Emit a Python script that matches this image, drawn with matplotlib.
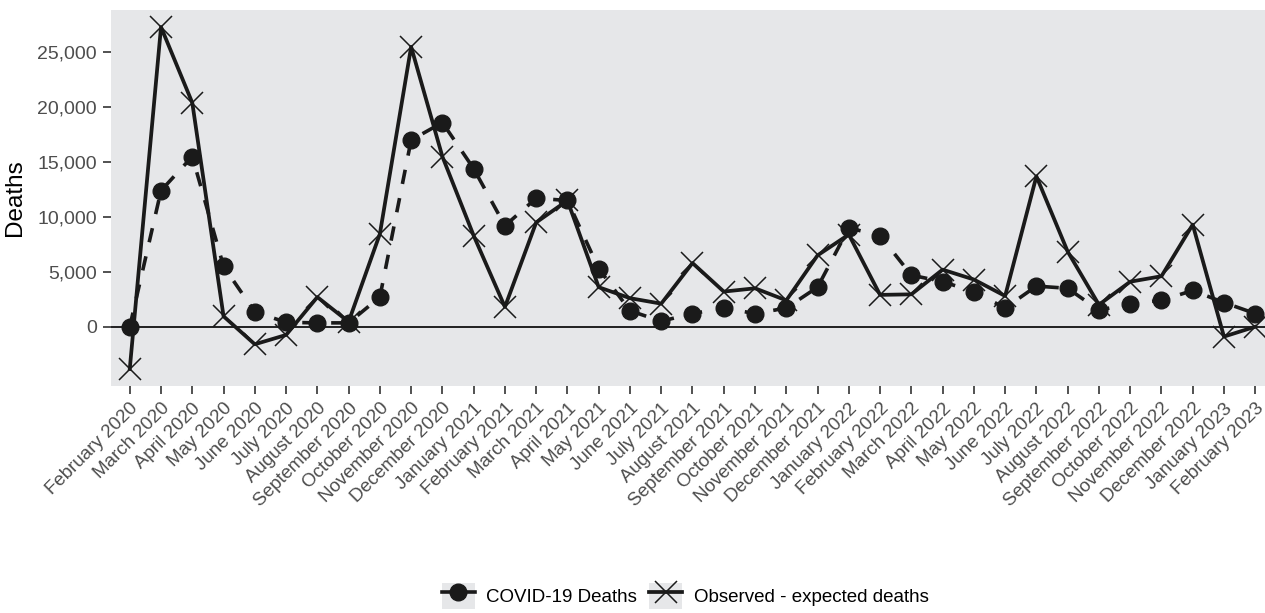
import matplotlib
matplotlib.use("Agg")
import matplotlib.pyplot as plt
from matplotlib.patches import Rectangle
from matplotlib.lines import Line2D
from matplotlib.legend_handler import HandlerTuple
from matplotlib.ticker import FuncFormatter

plt.rcParams['font.family'] = ['Liberation Sans', 'DejaVu Sans']

months = [
    "February 2020", "March 2020", "April 2020", "May 2020", "June 2020",
    "July 2020", "August 2020", "September 2020", "October 2020",
    "November 2020", "December 2020", "January 2021", "February 2021",
    "March 2021", "April 2021", "May 2021", "June 2021", "July 2021",
    "August 2021", "September 2021", "October 2021", "November 2021",
    "December 2021", "January 2022", "February 2022", "March 2022",
    "April 2022", "May 2022", "June 2022", "July 2022", "August 2022",
    "September 2022", "October 2022", "November 2022", "December 2022",
    "January 2023", "February 2023",
]

covid_deaths = [
    0, 12400, 15500, 5500, 1350, 400, 350, 350, 2700, 17000,
    18600, 14400, 9200, 11700, 11500, 5300, 1450, 500, 1200, 1700,
    1200, 1700, 3600, 9000, 8300, 4700, 4100, 3200, 1700, 3700,
    3500, 1500, 2100, 2400, 3300, 2200, 1200,
]

excess_deaths = [
    -3850, 27300, 20400, 950, -1600, -750, 2700, 450, 8450, 25500,
    15500, 8300, 1800, 9500, 11500, 3600, 2600, 2100, 5800, 3200,
    3500, 2400, 6500, 8400, 2900, 2950, 5200, 4300, 2800, 13700,
    6850, 2000, 4100, 4600, 9300, -900, 0,
]

fig = plt.figure(figsize=(12.65, 6.13), dpi=100)
ax = fig.add_axes([111 / 1265, 1 - 386 / 613, (1274 - 111) / 1265, 376 / 613])
ax.set_facecolor('#E6E7E9')
for s in ax.spines.values():
    s.set_visible(False)

x = list(range(len(months)))
ax.axhline(0, color='#111111', lw=1.3, zorder=1)

ax.plot(x, covid_deaths, color='#1a1a1a', lw=2.6, ls=(0, (4, 4)),
        marker='o', ms=12, zorder=3)
ax.plot(x, excess_deaths, color='#1a1a1a', lw=2.7, ls='-',
        marker='x', ms=16, mew=1.1, zorder=2)

ax.set_xlim(-0.6, len(months) - 1 + 0.6)
ax.set_ylim(-5400, 28850)
ax.set_yticks([0, 5000, 10000, 15000, 20000, 25000])
ax.yaxis.set_major_formatter(FuncFormatter(lambda v, p: f"{int(v):,}"))
ax.set_xticks(x)
ax.set_xticklabels(months, rotation=45, ha='right', va='top',
                   rotation_mode='anchor')
ax.tick_params(axis='both', colors='#333333', length=6, width=1.2,
               labelsize=14, labelcolor='#4D4D4D', pad=4)
ax.tick_params(axis='x', labelsize=13.5)
ax.set_ylabel("Deaths", fontsize=17.5, color='black', labelpad=8)

key_bg = '#E6E7E9'
h1 = (Rectangle((0, 0), 1, 1, facecolor=key_bg, edgecolor='none'),
      Line2D([], [], color='#1a1a1a', lw=2.6, marker='o', ms=12))
h2 = (Rectangle((0, 0), 1, 1, facecolor=key_bg, edgecolor='none'),
      Line2D([], [], color='#1a1a1a', lw=2.7, marker='x', ms=16, mew=1.1))
fig.legend([h1, h2], ["COVID-19 Deaths", "Observed - expected deaths"],
           handler_map={tuple: HandlerTuple(ndivide=1, pad=0)},
           loc='center', bbox_to_anchor=(685 / 1265, 17 / 613), ncol=2,
           frameon=False, fontsize=13.5, handlelength=1.8, handleheight=1.8,
           handletextpad=0.6, columnspacing=0.6, borderpad=0)

fig.savefig("out.png", dpi=100)
